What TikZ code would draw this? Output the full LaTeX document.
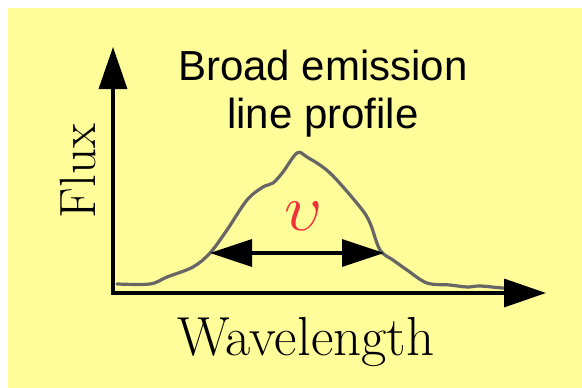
\documentclass[tikz,border=0pt]{standalone}
\usepackage{fontspec}
\newfontfamily\arialish{Liberation Sans}
\usetikzlibrary{arrows.meta}
\definecolor{bgyellow}{RGB}{255,253,153}
\definecolor{curvegray}{RGB}{102,102,102}
\definecolor{vred}{RGB}{240,50,60}
\begin{document}
\begin{tikzpicture}[x=1pt,y=-1pt,
  axisline/.style={line width=3.4pt,-{Triangle[length=42pt,width=28pt]}},
  widtharrow/.style={line width=3.2pt,{Triangle[length=42pt,width=27pt]}-{Triangle[length=42pt,width=27pt]}},
  profile/.style={curvegray,line width=3.2pt,line join=round,line cap=round},
  title/.style={font=\arialish\fontsize{42}{48}\selectfont,align=center,inner sep=0pt},
  axlabel/.style={inner sep=0pt}]
\useasboundingbox (0,0) rectangle (582,388);
\fill[bgyellow] (8,8) rectangle (582,388);
\coordinate (o) at (113,293);
\coordinate (ytip) at (113,47);
\coordinate (xtip) at (546,293);
\draw[profile] plot[smooth,tension=0.55] coordinates {
 (117,284) (150,284) (167,277) (193,267) (210,253) (227,230) (247,200)
 (263,187) (273,183) (283,172) (297,153) (307,157) (330,173) (360,207)
 (370,223) (380,250) (393,260) (407,270) (427,283) (450,285) (467,287)
 (480,286) (503,288) (520,288)};
\draw[axisline] (o) -- (ytip);
\draw[axisline] ([xshift=-1.7pt]o) -- (xtip);
\coordinate (wl) at (210,253);
\coordinate (wr) at (384,253);
\draw[widtharrow] (wl) -- (wr);
\node[scale=6.6,text=vred,inner sep=0pt] (v) at (304,216) {$\upsilon$};
\node[title,anchor=base] (t1) at (323,80) {Broad emission};
\node[title,anchor=base] (t2) at (323,128) {line profile};
\node[axlabel,font=\fontsize{51}{55}\selectfont,rotate=90,anchor=base] (flux) at (95,171) {Flux};
\node[axlabel,font=\fontsize{55}{60}\selectfont,anchor=base] (wave) at (306,355) {Wavelength};
\end{tikzpicture}
\end{document}
